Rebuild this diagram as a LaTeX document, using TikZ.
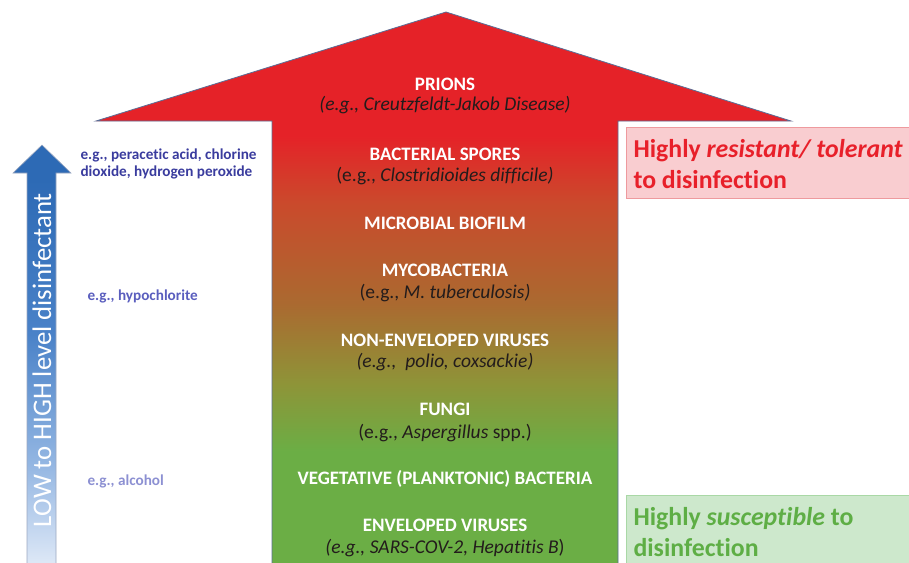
\documentclass[tikz,border=0pt]{standalone}
\usepackage{fontspec}
\setmainfont{Carlito}[Ligatures={NoCommon}]
\definecolor{cgreen}{HTML}{6BAE45}
\definecolor{colive}{HTML}{8E9438}
\definecolor{cbrown}{HTML}{AA6A30}
\definecolor{corange}{HTML}{CA4A2C}
\definecolor{cred}{HTML}{E52228}
\definecolor{bTop}{HTML}{2D6AB5}
\definecolor{bMid}{HTML}{4A82C8}
\definecolor{bLow}{HTML}{93B6E2}
\definecolor{bBot}{HTML}{E6EEF9}
\definecolor{txtred}{HTML}{E8202A}
\definecolor{txtgreen}{HTML}{5EAE45}
\definecolor{pinkfill}{HTML}{F9CDD0}
\definecolor{pinkdraw}{HTML}{EE9A9E}
\definecolor{greenfill}{HTML}{CDE8CC}
\definecolor{greendraw}{HTML}{A9D8A6}
\definecolor{lab1}{HTML}{3A3C9E}
\definecolor{lab2}{HTML}{5A5EBE}
\definecolor{lab3}{HTML}{8C90D2}
\definecolor{edge}{HTML}{5A6E96}
\definecolor{darktxt}{HTML}{231C1C}
\pgfdeclareverticalshading{bigarrowshade}{100bp}{color(0bp)=(cgreen); color(36bp)=(cgreen); color(42bp)=(colive); color(49bp)=(cbrown); color(58bp)=(corange); color(64bp)=(cred); color(100bp)=(cred)}
\pgfdeclareverticalshading{bluearrowshade}{100bp}{color(0bp)=(bBot); color(25bp)=(bBot); color(38bp)=(bLow); color(53bp)=(bMid); color(71bp)=(bTop); color(100bp)=(bTop)}
\tikzset{
  captxt/.style={text=white, font=\fontsize{19}{22}\selectfont\bfseries, anchor=center},
  extxt/.style={text=darktxt, font=\fontsize{19.5}{22}\selectfont, anchor=center},
  sidebox/.style={line width=1pt, inner sep=0pt},
  sidetxt/.style={font=\fontsize{25.8}{31}\selectfont\bfseries, anchor=west, align=left},
  labtxt/.style={font=\fontsize{15.2}{17}\selectfont\bfseries, anchor=west, align=left}
}
\begin{document}
\begin{tikzpicture}[x=1pt,y=-1pt]
\useasboundingbox (0,0) rectangle (909,562);
% big arrow
\path[shading=bigarrowshade, draw=edge, line width=0.8pt]
  (272,575) -- (272,121) -- (96,121) -- (446,12) -- (791,121) -- (618,121) -- (618,575) -- cycle;
% blue arrow
\path[shading=bluearrowshade, draw=edge!60, line width=0.6pt]
  (27,575) -- (27,173) -- (13,173) -- (42,145) -- (71,173) -- (56,173) -- (56,575) -- cycle;
\node[rotate=90, text=white, font=\fontsize{26.8}{30}\selectfont] (lowhigh) at (42,360) {LOW to HIGH level disinfectant};
% side boxes
\draw[sidebox, fill=pinkfill, draw=pinkdraw] (626,127) rectangle (915,198);
\node[sidetxt, text=txtred] (resist) at (630,164) {Highly \textit{resistant/ tolerant}\\to disinfection};
\draw[sidebox, fill=greenfill, draw=greendraw] (626,495) rectangle (915,570);
\node[sidetxt, text=txtgreen] (suscept) at (630,532) {Highly \textit{susceptible} to\\disinfection};
% left labels
\node[labtxt, text=lab1] (l1) at (77,164) {e.g., peracetic acid, chlorine\\dioxide, hydrogen peroxide};
\node[labtxt, text=lab2] (l2) at (84,296) {e.g., hypochlorite};
\node[labtxt, text=lab3] (l3) at (84,481) {e.g., alcohol};
% center texts
\node[captxt] (prions) at (445,84) {PRIONS};
\node[extxt] (prionsex) at (445,105) {\textit{(e.g., Creutzfeldt-Jakob Disease)}};
\node[captxt] (spores) at (445,154) {BACTERIAL SPORES};
\node[extxt] (sporesex) at (445,176) {(e.g., \textit{Clostridioides difficile)}};
\node[captxt] (biofilm) at (445,223) {MICROBIAL BIOFILM};
\node[captxt] (myco) at (445,270) {MYCOBACTERIA};
\node[extxt] (mycoex) at (445,293) {(e.g., \textit{M. tuberculosis)}};
\node[captxt] (nonenv) at (445,340) {NON-ENVELOPED VIRUSES};
\node[extxt] (nonenvex) at (445,362) {\textit{(e.g.,\ \ polio, coxsackie)}};
\node[captxt] (fungi) at (445,409) {FUNGI};
\node[extxt] (fungiex) at (445,433) {(e.g., \textit{Aspergillus} spp.)};
\node[captxt] (veg) at (445,479) {VEGETATIVE (PLANKTONIC) BACTERIA};
\node[captxt] (env) at (445,525) {ENVELOPED VIRUSES};
\node[extxt] (envex) at (445,548) {\textit{(e.g., SARS-COV-2, Hepatitis B})};
\end{tikzpicture}
\end{document}
